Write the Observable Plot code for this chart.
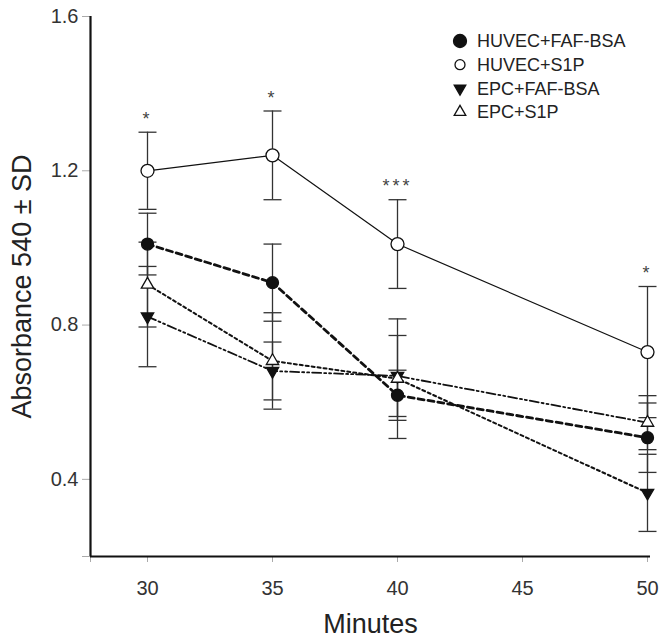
<!DOCTYPE html>
<html>
<head>
<meta charset="utf-8">
<script src="https://cdn.jsdelivr.net/npm/d3@7"></script>
<script src="https://cdn.jsdelivr.net/npm/@observablehq/plot@0.6"></script>
<style>
  html, body { margin: 0; padding: 0; background: #fff; }
  #wrap { position: relative; width: 659px; height: 637px; }
  #legend { position: absolute; left: 440px; top: 25px; }
  .stars text { letter-spacing: 3px; }
</style>
</head>
<body>
<div id="wrap"></div>
<script>
// ---- data ----
const minutes = [30, 35, 40, 50];
const seriesNames = ["HUVEC+FAF-BSA", "HUVEC+S1P", "EPC+FAF-BSA", "EPC+S1P"];
const huvecFafMean = [1.01, 0.91, 0.618, 0.508];
const huvecFafSd   = [0.08, 0.10, 0.065, 0.09];
const huvecS1pMean = [1.20, 1.24, 1.01, 0.73];
const huvecS1pSd   = [0.10, 0.115, 0.115, 0.17];
const epcFafMean   = [0.822, 0.681, 0.668, 0.365];
const epcFafSd     = [0.13, 0.075, 0.105, 0.10];
const epcS1pMean   = [0.905, 0.707, 0.661, 0.547];
const epcS1pSd     = [0.11, 0.125, 0.155, 0.07];
const starText     = ["*", "*", "***", "*"];
const yTicks = [0.2, 0.4, 0.8, 1.2, 1.6];
const xTicks = [27.72, 30, 35, 40, 45, 50];
// which series' marker each drawn line passes through at each minute (as in the figure)
const linePaths = {
  "HUVEC+FAF-BSA": ["HUVEC+FAF-BSA", "HUVEC+FAF-BSA", "HUVEC+FAF-BSA", "HUVEC+FAF-BSA"],
  "HUVEC+S1P":     ["HUVEC+S1P", "HUVEC+S1P", "HUVEC+S1P", "HUVEC+S1P"],
  "EPC+FAF-BSA":   ["EPC+FAF-BSA", "EPC+FAF-BSA", "EPC+FAF-BSA", "EPC+S1P"],
  "EPC+S1P":       ["EPC+S1P", "EPC+S1P", "EPC+S1P", "EPC+FAF-BSA"]
};

// ---- table ----
const means = [huvecFafMean, huvecS1pMean, epcFafMean, epcS1pMean];
const sds = [huvecFafSd, huvecS1pSd, epcFafSd, epcS1pSd];
const rows = [];
seriesNames.forEach((s, i) => minutes.forEach((m, j) =>
  rows.push({series: s, minute: m, mean: means[i][j], sd: sds[i][j]})));
const stars = minutes.map((m, j) => ({minute: m, text: starText[j], top: huvecS1pMean[j] + huvecS1pSd[j]}));

const styles = {
  "HUVEC+FAF-BSA": {dash: "6,4", width: 2.8, symbol: "circle", fill: "#111", r: 6, rotate: 0},
  "HUVEC+S1P": {dash: null, width: 1.2, symbol: "circle", fill: "#fff", r: 6.5, rotate: 0},
  "EPC+FAF-BSA": {dash: "9,3,2,3,2,3", width: 1.8, symbol: "triangle", fill: "#111", r: 4.6, rotate: 180},
  "EPC+S1P": {dash: "3,3", width: 2, symbol: "triangle", fill: "#fff", r: 4.6, rotate: 0}
};

const cap = {draw(ctx) { ctx.moveTo(-9, 0); ctx.lineTo(9, 0); }};
const fam = "'Liberation Sans', Arial, Helvetica, sans-serif";

const marks = [
  Plot.axisY({ticks: yTicks, tickFormat: d => d === 0.2 ? "" : d.toFixed(1), tickSize: 8, tickPadding: 4, fontSize: 20, label: null, stroke: "#aaa", fill: "#333"}),
  Plot.axisY({ticks: [], label: "Absorbance 540 ± SD", labelAnchor: "center", labelArrow: "none", labelOffset: 79, fontSize: 27, fill: "#222"}),
  Plot.axisX({ticks: xTicks, tickFormat: d => d === 27.72 ? "" : String(d), tickSize: 6, tickPadding: 18, fontSize: 20, label: null, stroke: "#aaa", fill: "#333"}),
  Plot.axisX({ticks: [], label: "Minutes", labelAnchor: "center", labelArrow: "none", labelOffset: 76, fontSize: 27, fill: "#222"}),
  Plot.ruleX([27.72], {stroke: "#111", strokeWidth: 2.2}),
  Plot.ruleY([0.2], {stroke: "#111", strokeWidth: 2.2})
];

const lookup = (s, m) => rows.find(d => d.series === s && d.minute === m);
seriesNames.forEach(s => {
  const st = styles[s];
  const pts = minutes.map((m, j) => lookup(linePaths[s][j], m));
  marks.push(Plot.line(pts, {
    x: "minute", y: "mean", stroke: "#111", strokeWidth: st.width,
    strokeDasharray: st.dash || undefined, curve: "linear"
  }));
});

marks.push(
  Plot.ruleX(rows, {x: "minute", y1: d => d.mean - d.sd, y2: d => d.mean + d.sd, stroke: "#333", strokeWidth: 1.3}),
  Plot.dot(rows, {x: "minute", y: d => d.mean + d.sd, symbol: cap, stroke: "#333", strokeWidth: 1.3, fill: "none"}),
  Plot.dot(rows, {x: "minute", y: d => d.mean - d.sd, symbol: cap, stroke: "#333", strokeWidth: 1.3, fill: "none"})
);

seriesNames.forEach(s => {
  const st = styles[s];
  marks.push(Plot.dot(rows.filter(d => d.series === s), {
    x: "minute", y: "mean", symbol: st.symbol, r: st.r, rotate: st.rotate,
    fill: st.fill, stroke: "#111", strokeWidth: 1.3
  }));
});

marks.push(Plot.text(stars, {x: "minute", y: "top", text: "text", dy: -13, fontSize: 18, fill: "#444", className: "stars"}));

const chart = Plot.plot({
  width: 659, height: 637,
  marginLeft: 90, marginRight: 9, marginTop: 16, marginBottom: 81,
  style: {fontFamily: fam, background: "#fff", color: "#222", overflow: "visible"},
  x: {domain: [27.72, 50.12]},
  y: {domain: [0.2, 1.6]},
  marks
});
const wrap = document.getElementById("wrap");
wrap.appendChild(chart);

// ---- legend (overlay inside the plot area, top right) ----
const lg = d3.select(wrap).append("svg").attr("id", "legend")
  .attr("width", 219).attr("height", 110)
  .style("font-family", fam);
seriesNames.forEach((s, i) => {
  const st = styles[s];
  const cy = 16 + 23.7 * i;
  const g = lg.append("g").attr("transform", `translate(20,${cy})`);
  if (st.symbol === "circle") {
    g.append("circle").attr("r", i === 0 ? 6.5 : 5).attr("fill", st.fill).attr("stroke", "#111").attr("stroke-width", 1.3);
  } else {
    const p = d3.symbol(d3.symbolTriangle, Math.PI * 4.3 * 4.3)();
    g.append("path").attr("d", p).attr("fill", st.fill).attr("stroke", "#111").attr("stroke-width", 1.3)
      .attr("transform", st.rotate ? "rotate(180)" : null);
  }
  lg.append("text").attr("x", 37).attr("y", cy).attr("dy", "0.35em")
    .attr("font-size", 18).attr("fill", "#222").text(s);
});
</script>
</body>
</html>
